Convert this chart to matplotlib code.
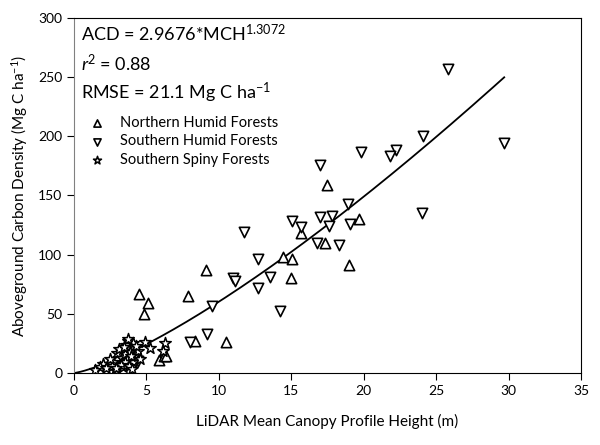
import numpy as np
import matplotlib
matplotlib.use("Agg")
import matplotlib.pyplot as plt

plt.rcParams['font.family'] = ['Lato', 'DejaVu Sans']
plt.rcParams['mathtext.fontset'] = 'custom'
plt.rcParams['mathtext.rm'] = 'Lato'
plt.rcParams['mathtext.it'] = 'Lato:italic'

# Northern Humid Forests
north_x = [4.5, 5.1, 4.8, 7.9, 9.1, 10.5, 8.35, 5.85, 6.2, 6.35,
           17.5, 15.7, 19.7, 17.3, 14.4, 15.05, 15.0, 19.0]
north_y = [67, 59, 50, 65, 87, 26, 27, 11, 14, 14,
           159, 118, 130, 110, 98, 96, 80, 91]

# Southern Humid Forests
south_x = [25.8, 24.1, 22.2, 21.85, 29.7, 24.05, 17.0, 19.8, 18.95, 17.0,
           17.8, 17.6, 19.05, 16.75, 18.3, 15.7, 15.05, 12.7, 13.5, 12.7,
           14.2, 11.75, 11.0, 11.15, 9.5, 8.0, 9.15, 4.4]
south_y = [257, 200, 188, 183, 194, 135, 176, 187, 143, 132,
           133, 124, 126, 110, 108, 123, 128, 96, 81, 72,
           52, 119, 80, 78, 57, 26, 33, 10]

# Southern Spiny Forests
spiny_x = [3.75, 3.6, 3.4, 3.9, 3.2, 2.95, 2.7, 2.35, 2.0, 1.8,
           1.45, 2.8, 3.4, 4.1, 4.2, 4.1, 4.9, 5.25, 6.25, 6.15,
           4.45, 4.55, 3.0, 3.3, 3.55, 3.85, 3.65, 3.1, 2.6, 3.95,
           3.5, 3.25, 2.5, 3.7, 4.3, 3.45, 2.9, 3.8, 4.0, 2.2]
spiny_y = [27, 24, 19, 21, 15, 12, 9.6, 8, 8, 5,
           2.5, 2.5, 5, 9.6, 15, 25, 26, 21, 25, 19,
           19, 12, 17, 13, 16, 18, 11, 20, 6, 14,
           9, 7, 12, 29, 23, 22, 4, 6, 3, 4]

# fitted model ACD = a * MCH^b
fit_a = 2.9676
fit_b = 1.3072
fit_xmax = 29.7

fig = plt.figure(figsize=(6, 4.45), dpi=100)
ax = fig.add_axes([0.1233, 0.1618, 0.845, 0.798])

fit_x = np.linspace(0, fit_xmax, 200)
ax.plot(fit_x, fit_a * fit_x ** fit_b, color='black', lw=1.3, zorder=1)

ax.scatter(north_x, north_y, marker='^', s=55, facecolors='white',
           edgecolors='black', linewidths=1.2, label='Northern Humid Forests', zorder=3)
ax.scatter(south_x, south_y, marker='v', s=55, facecolors='white',
           edgecolors='black', linewidths=1.2, label='Southern Humid Forests', zorder=3)
ax.scatter(spiny_x, spiny_y, marker='*', s=75, facecolors='white',
           edgecolors='black', linewidths=1.1, label='Southern Spiny Forests', zorder=4)

ax.set_xlim(0, 35)
ax.set_ylim(0, 300)
ax.set_xticks(range(0, 36, 5))
ax.set_yticks(range(0, 301, 50))
ax.tick_params(direction='out', length=5, labelsize=10, top=False, right=False)
ax.spines['left'].set_color('#808080')

ax.set_xlabel('LiDAR Mean Canopy Profile Height (m)', fontsize=11, labelpad=12)
ax.set_ylabel('Aboveground Carbon Density (Mg C ha$^{-1}$)', fontsize=11, labelpad=6)

ax.text(0.013, 0.985, 'ACD = 2.9676*MCH$^{1.3072}$', transform=ax.transAxes,
        fontsize=13, va='top')
ax.text(0.013, 0.902, '$\\it{r}$$^{2}$ = 0.88', transform=ax.transAxes,
        fontsize=13, va='top')
ax.text(0.013, 0.823, 'RMSE = 21.1 Mg C ha$^{-1}$', transform=ax.transAxes,
        fontsize=13, va='top')

leg = ax.legend(loc='upper left', bbox_to_anchor=(0.005, 0.74), frameon=False,
                fontsize=10.5, handletextpad=0.6, labelspacing=0.3,
                markerscale=0.7, borderaxespad=0)

fig.savefig('out.png', dpi=100)
